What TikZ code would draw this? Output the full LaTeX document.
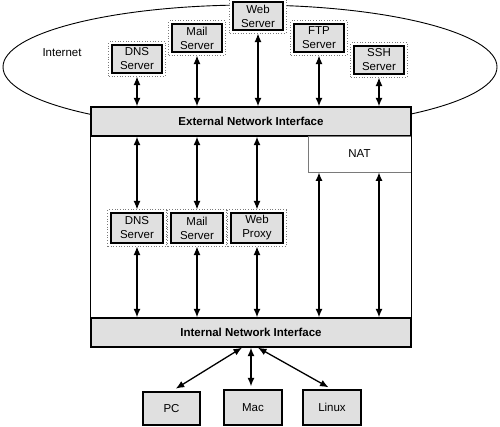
\documentclass[tikz,border=0pt]{standalone}
\usepackage{fontspec}
\setmainfont{Liberation Sans}
\usetikzlibrary{fit, backgrounds, arrows.meta}
\definecolor{boxFill}{HTML}{E0E0E0}
\definecolor{frameGray}{HTML}{7A7A7A}

\begin{document}
\begin{tikzpicture}[x=1pt, y=-1pt,
    font=\fontsize{11.5}{14}\selectfont,
    server/.style={draw, line width=1.4pt, fill=boxFill, align=center,
        minimum width=50, minimum height=28, inner sep=1pt},
    frame/.style={draw=frameGray, dotted, line width=0.7pt, fill=white, inner sep=2.5pt},
    iface/.style={draw, line width=1.4pt, fill=boxFill, minimum width=320,
        minimum height=29, font=\fontsize{11.5}{14}\selectfont\bfseries},
    client/.style={draw, line width=1.4pt, fill=boxFill, minimum width=58, minimum height=34},
    link/.style={{Latex[length=8.5pt, width=7pt]}-{Latex[length=8.5pt, width=7pt]}, line width=1.3pt}]
    \useasboundingbox (0,0) rectangle (500,427);

    \node (inet) at (62,53) {Internet};

    \foreach \name/\px/\py/\txt in {dnsA/137/59/DNS\\Server, mailA/197/38/Mail\\Server,
        webA/258/16/Web\\Server, ftpA/319/38/FTP\\Server, sshA/379/60/SSH\\Server}
        \node[server] (\name) at (\px,\py) {\txt};

    \foreach \name/\px/\txt in {dnsB/137/DNS\\Server, mailB/197/Mail\\Server, proxyB/257/Web\\Proxy}
        \node[server, minimum width=52, minimum height=30] (\name) at (\px,228) {\txt};

    \begin{scope}[on background layer]
        \draw[line width=0.9pt] (250,67) ellipse (247 and 62);
        \foreach \name in {dnsA, mailA, webA, ftpA, sshA, dnsB, mailB, proxyB}
            \node[frame, fit=(\name)] (f\name) {};
    \end{scope}

    \node[iface] (ext) at (251,121.5) {External Network Interface};
    \node[iface] (int) at (251,332.5) {Internal Network Interface};
    \node[draw=frameGray, line width=0.8pt, minimum width=103, minimum height=36] (nat) at (359.5,154) {NAT};
    \draw[line width=1.4pt] (ext.north west) rectangle (int.south east);

    \foreach \name in {dnsA, mailA, webA, ftpA, sshA}
        \draw[link] (f\name.south) -- (f\name.south |- ext.north);
    \foreach \name in {dnsB, mailB, proxyB} {
        \draw[link] (ext.south -| f\name) -- (f\name.north);
        \draw[link] (f\name.south) -- (f\name.south |- int.north);
    }
    \foreach \name in {ftpA, sshA}
        \draw[link] (nat.south -| \name) -- (int.north -| \name);

    \node[client, minimum width=57, minimum height=33] (pc) at (171.5,408.5) {PC};
    \node[client, minimum height=35] (mac) at (253,407.5) {Mac};
    \node[client, minimum height=35] (linux) at (332,407.5) {Linux};

    \draw[link, shorten >=5pt] ([xshift=-9pt]int.south) -- (pc.north);
    \draw[link, shorten >=3pt] (int.south) -- (int.south |- mac.north);
    \draw[link, shorten >=4pt] ([xshift=7pt]int.south) -- (linux.north);
\end{tikzpicture}
\end{document}
